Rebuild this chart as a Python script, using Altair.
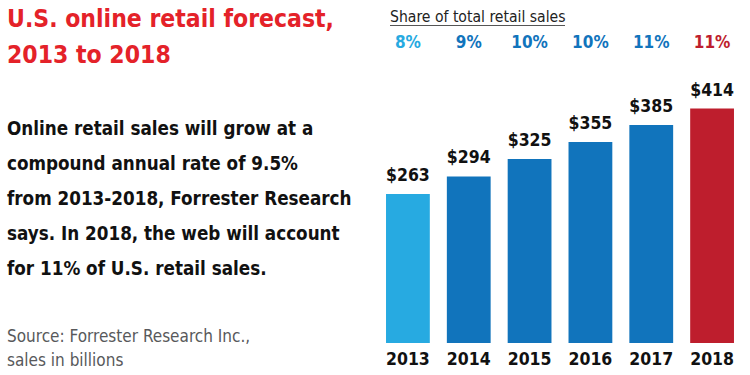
import altair as alt
import pandas as pd

years = ["2013", "2014", "2015", "2016", "2017", "2018"]
sales = [263, 294, 325, 355, 385, 414]
sales_labels = ["$263", "$294", "$325", "$355", "$385", "$414"]
shares = ["8%", "9%", "10%", "10%", "11%", "11%"]
colors = ["#27aae1", "#1174bc", "#1174bc", "#1174bc", "#1174bc", "#be1e2d"]

title_lines = ["U.S. online retail forecast,", "2013 to 2018"]
body_lines = [
    "Online retail sales will grow at a",
    "compound annual rate of 9.5%",
    "from 2013-2018, Forrester Research",
    "says. In 2018, the web will account",
    "for 11% of U.S. retail sales.",
]
source_lines = ["Source: Forrester Research Inc.,", "sales in billions"]
share_header = "Share of total retail sales"

FONT = "DejaVu Sans Condensed, Roboto"

df = pd.DataFrame({"year": years, "sales": sales, "label": sales_labels,
                   "share": shares, "color": colors})

x = alt.X("year:N", axis=None,
          scale=alt.Scale(range=[377.5, 742.5], paddingInner=0.28, paddingOuter=0.14))
y = alt.Y("sales:Q", axis=None, scale=alt.Scale(domain=[0, 414], range=[343, 108.5]))

bars = alt.Chart(df).mark_bar().encode(
    x=x, y=y, color=alt.Color("color:N", scale=None))

vals = alt.Chart(df).mark_text(font=FONT, fontSize=17.5, fontWeight="bold",
                               baseline="alphabetic", dy=-13, color="#111").encode(
    x=x, y=y, text="label:N")

pcts = alt.Chart(df).mark_text(font=FONT, fontSize=17, fontWeight="bold",
                               baseline="alphabetic").encode(
    x=x, y=alt.value(48), text="share:N", color=alt.Color("color:N", scale=None))

yrs = alt.Chart(df).mark_text(font=FONT, fontSize=17.5, fontWeight="bold",
                              baseline="alphabetic", color="#111").encode(
    x=x, y=alt.value(365), text="year:N")

one = alt.Data(values=[{"a": 1}])

title = alt.Chart(one).mark_text(text=title_lines, font=FONT, fontSize=24.5, fontWeight="bold",
                                 align="left", baseline="alphabetic", lineHeight=36,
                                 color="#e42229").encode(x=alt.value(7), y=alt.value(27))

body = alt.Chart(one).mark_text(text=body_lines, font=FONT, fontSize=18.7, fontWeight="bold",
                                align="left", baseline="alphabetic", lineHeight=35,
                                color="#111").encode(x=alt.value(7), y=alt.value(135))

source = alt.Chart(one).mark_text(text=source_lines, font=FONT, fontSize=17,
                                  align="left", baseline="alphabetic", lineHeight=24,
                                  color="#58595b").encode(x=alt.value(7), y=alt.value(342))

header = alt.Chart(one).mark_text(text=share_header, font=FONT, fontSize=15.6,
                                  align="left", baseline="alphabetic",
                                  color="#222").encode(x=alt.value(390), y=alt.value(22))

underline = alt.Chart(one).mark_rule(color="#555", strokeWidth=1).encode(
    x=alt.value(390), x2=alt.value(565), y=alt.value(25.5))

chart = alt.layer(bars, vals, pcts, yrs, title, body, source, header, underline).properties(
    width=750, height=375, autosize=alt.AutoSizeParams(type="none"), padding=0,
    background="white"
).configure_view(stroke=None)

chart.save("out.html", embed_options={"renderer": "svg", "actions": False})
